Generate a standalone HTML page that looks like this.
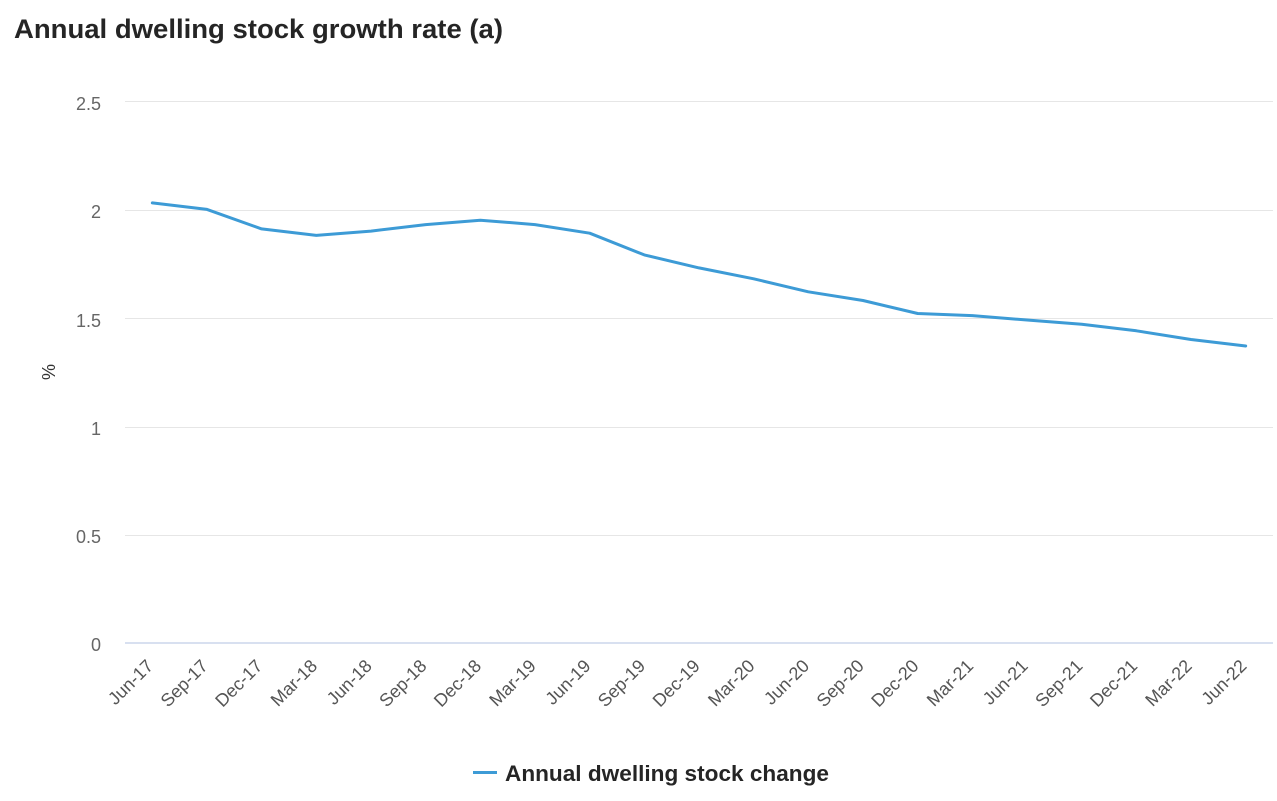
<!DOCTYPE html>
<html>
<head>
<meta charset="utf-8">
<style>
  html, body { margin: 0; padding: 0; background: #ffffff; }
  body { width: 1277px; height: 801px; overflow: hidden; }
  svg { display: block; font-family: "Liberation Sans", sans-serif; }
</style>
</head>
<body>
<svg width="1277" height="801" viewBox="0 0 1277 801" xmlns="http://www.w3.org/2000/svg">
  <rect x="0" y="0" width="1277" height="801" fill="#ffffff"/>
  <!-- Title -->
  <text x="14" y="38" font-size="27" font-weight="bold" fill="#252525" textLength="489" lengthAdjust="spacingAndGlyphs">Annual dwelling stock growth rate (a)</text>

  <!-- Gridlines -->
  <g stroke="#e6e6e6" stroke-width="1">
    <line x1="125" y1="101.5" x2="1273" y2="101.5"/>
    <line x1="125" y1="210.5" x2="1273" y2="210.5"/>
    <line x1="125" y1="318.5" x2="1273" y2="318.5"/>
    <line x1="125" y1="427.5" x2="1273" y2="427.5"/>
    <line x1="125" y1="535.5" x2="1273" y2="535.5"/>
  </g>
  <line x1="125" y1="643" x2="1273" y2="643" stroke="#ccd6eb" stroke-width="1.5"/>

  <!-- Y labels -->
  <g font-size="18" fill="#666666" text-anchor="end">
    <text x="101" y="110">2.5</text>
    <text x="101" y="218">2</text>
    <text x="101" y="327">1.5</text>
    <text x="101" y="435">1</text>
    <text x="101" y="543">0.5</text>
    <text x="101" y="651">0</text>
  </g>
  <text transform="translate(55,372) rotate(-90)" font-size="18" fill="#333333" text-anchor="middle">%</text>

  <!-- X labels -->
  <g font-size="18" fill="#555555" text-anchor="end">
    <text transform="translate(154.3,667) rotate(-45)">Jun-17</text>
    <text transform="translate(209,667) rotate(-45)">Sep-17</text>
    <text transform="translate(263.6,667) rotate(-45)">Dec-17</text>
    <text transform="translate(318.3,667) rotate(-45)">Mar-18</text>
    <text transform="translate(373,667) rotate(-45)">Jun-18</text>
    <text transform="translate(427.7,667) rotate(-45)">Sep-18</text>
    <text transform="translate(482.3,667) rotate(-45)">Dec-18</text>
    <text transform="translate(537,667) rotate(-45)">Mar-19</text>
    <text transform="translate(591.7,667) rotate(-45)">Jun-19</text>
    <text transform="translate(646.3,667) rotate(-45)">Sep-19</text>
    <text transform="translate(701,667) rotate(-45)">Dec-19</text>
    <text transform="translate(755.7,667) rotate(-45)">Mar-20</text>
    <text transform="translate(810.3,667) rotate(-45)">Jun-20</text>
    <text transform="translate(865,667) rotate(-45)">Sep-20</text>
    <text transform="translate(919.7,667) rotate(-45)">Dec-20</text>
    <text transform="translate(974.4,667) rotate(-45)">Mar-21</text>
    <text transform="translate(1029,667) rotate(-45)">Jun-21</text>
    <text transform="translate(1083.7,667) rotate(-45)">Sep-21</text>
    <text transform="translate(1138.4,667) rotate(-45)">Dec-21</text>
    <text transform="translate(1193,667) rotate(-45)">Mar-22</text>
    <text transform="translate(1247.7,667) rotate(-45)">Jun-22</text>
  </g>

  <!-- Series -->
  <polyline fill="none" stroke="#3d9bd6" stroke-width="3" stroke-linejoin="round" stroke-linecap="round"
    points="152.3,202.9 207.0,209.4 261.6,228.9 316.3,235.4 371.0,231.1 425.7,224.6 480.3,220.2 535.0,224.6 589.7,233.2 644.3,254.9 699.0,267.9 753.7,278.8 808.3,291.8 863.0,300.5 917.7,313.5 972.4,315.6 1027.0,320.0 1081.7,324.3 1136.4,330.8 1191.0,339.5 1245.7,346.0"/>

  <!-- Legend -->
  <line x1="473" y1="772.5" x2="497" y2="772.5" stroke="#3d9bd6" stroke-width="3"/>
  <text x="505" y="781" font-size="22" font-weight="bold" fill="#252525" textLength="324" lengthAdjust="spacingAndGlyphs">Annual dwelling stock change</text>
</svg>
</body>
</html>
